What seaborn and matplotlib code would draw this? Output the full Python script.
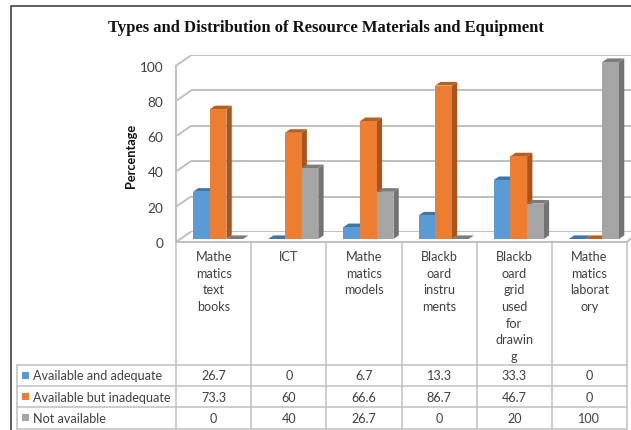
import pandas as pd
import numpy as np
import seaborn as sns
import matplotlib.pyplot as plt
from matplotlib.patches import Polygon, Rectangle

# values
categories = ['Mathe\nmatics\ntext\nbooks', 'ICT', 'Mathe\nmatics\nmodels', 'Blackb\noard\ninstru\nments',
              'Blackb\noard\ngrid\nused\nfor\ndrawin\ng', 'Mathe\nmatics\nlaborat\nory']
adequate = [26.7, 0, 6.7, 13.3, 33.3, 0]
inadequate = [73.3, 60, 66.6, 86.7, 46.7, 0]
not_available = [0, 40, 26.7, 0, 20, 100]
series_names = ['Available and adequate', 'Available but inadequate', 'Not available']
y_ticks = [0, 20, 40, 60, 80, 100]

colors = ['#5B9BD5', '#ED7D31', '#A5A5A5']
top_colors = ['#3F76A8', '#B85F20', '#7C7C7C']
side_colors = ['#41719C', '#A5561F', '#737373']
line_color = '#BFBFBF'

W, H = 631, 431
FONT = 'Lato'
TABLE_SIZE = 9.1


def axes_px(fig, left, right, top, bottom):
    # axes placed with pixel edges measured from the top left corner
    return fig.add_axes([left / W, 1 - bottom / H, (right - left) / W, (bottom - top) / H])


def main():
    sns.set_theme(style='white')
    plt.rcParams['font.family'] = [FONT, 'DejaVu Sans']

    df = pd.DataFrame({
        'category': np.tile(categories, 3),
        'series': np.repeat(series_names, len(categories)),
        'value': adequate + inadequate + not_available,
    })

    fig = plt.figure(figsize=(W / 100, H / 100), dpi=100, facecolor='white')

    # pixel canvas for the frame, table and titles
    canvas = fig.add_axes([0, 0, 1, 1])
    canvas.set_xlim(0, W)
    canvas.set_ylim(H, 0)
    canvas.axis('off')

    canvas.plot([10.5, 10.5, W], [H, 7, 7], color='#333333', lw=1.1)
    canvas.text(325.5, 28, 'Types and Distribution of Resource Materials and Equipment',
                family='Liberation Serif', fontweight='bold', fontsize=11.95, color='#111111',
                ha='center', va='center')
    canvas.text(130.5, 155.5, 'Percentage', fontweight='bold', fontsize=9.2, color='#111111',
                rotation=90, ha='center', va='center')

    # back wall with the gridlines
    back = axes_px(fig, 190.5, W, 55.7, 233)
    back.patch.set_alpha(0)
    back.set_ylim(0, 100)
    back.set_xticks([])
    back.set_yticks(y_ticks)
    back.tick_params(left=False, labelleft=False)
    back.grid(axis='y', color=line_color, lw=1.4)
    sns.despine(ax=back, left=True, bottom=True)

    # front edge, holds the y tick labels
    front = axes_px(fig, 176, 627, 66.7, 243)
    front.patch.set_alpha(0)
    front.set_ylim(0, 100)
    front.set_xticks([])
    front.set_yticks(y_ticks)
    front.tick_params(axis='y', length=0, pad=9, labelsize=9.8, labelcolor='#404040')
    sns.despine(ax=front, top=True, right=True)
    front.spines['left'].set(color=line_color, lw=1.4)
    front.spines['bottom'].set(color=line_color, lw=1.4)

    # side wall and floor edges joining front and back
    for v in y_ticks:
        y = 243 - v * 1.763
        canvas.plot([176, 190.5], [y, y - 10], color=line_color, lw=1.4)
    canvas.plot([627, W], [243, 239.5], color=line_color, lw=1.4)

    # bars
    ax = axes_px(fig, 176, 627, 63, 240)
    ax.patch.set_alpha(0)
    sns.barplot(data=df, x='category', y='value', hue='series', hue_order=series_names,
                palette=colors, saturation=1, width=0.667, gap=0, legend=False, ax=ax)
    ax.set_xlim(-0.5 - 4.5 / 75.2, 5.5 - 4.5 / 75.2)
    ax.set_ylim(0, 100)
    ax.set_xlabel('')
    ax.set_ylabel('')
    ax.set_xticks([])
    ax.set_yticks([])
    sns.despine(ax=ax, left=True, bottom=True)

    # depth faces built from the bars seaborn drew
    dx = 5.3 / 75.2
    dy = 3.6 / 1.77
    for i, container in enumerate(ax.containers):
        for bar in container:
            x0 = bar.get_x()
            x1 = x0 + bar.get_width()
            h = bar.get_height()
            bar.set_linewidth(0)
            bar.set_zorder(10 + i * 2)
            ax.add_patch(Polygon([(x1, 0), (x1 + dx, dy), (x1 + dx, h + dy), (x1, h)], closed=True,
                                 fc=side_colors[i], lw=0, zorder=9 + i * 2, clip_on=False))
            ax.add_patch(Polygon([(x0, h), (x0 + dx, h + dy), (x1 + dx, h + dy), (x1, h)], closed=True,
                                 fc=top_colors[i], lw=0, zorder=9 + i * 2, clip_on=False))

    # data table
    col_edges = np.linspace(176, 627, len(categories) + 1)
    row_edges = [365.7, 387, 408.3, 429.7]
    for x in col_edges:
        canvas.plot([x, x], [243, row_edges[-1]], color=line_color, lw=1.1)
    canvas.plot([17.3, 17.3], [row_edges[0], row_edges[-1]], color=line_color, lw=1.1)
    for y in row_edges:
        canvas.plot([17.3, 627], [y, y], color=line_color, lw=1.1)

    rows = [adequate, inadequate, not_available]
    for r, (name, values) in enumerate(zip(series_names, rows)):
        y = (row_edges[r] + row_edges[r + 1]) / 2
        canvas.add_patch(Rectangle((22, y - 3.5), 7, 7, fc=colors[r], lw=0))
        canvas.text(33, y, name, fontsize=TABLE_SIZE, color='#404040', ha='left', va='center')
        for c, v in enumerate(values):
            canvas.text((col_edges[c] + col_edges[c + 1]) / 2, y, f'{v:g}', fontsize=TABLE_SIZE,
                        color='#404040', ha='center', va='center')
    for c, label in enumerate(categories):
        for k, part in enumerate(label.split('\n')):
            canvas.text((col_edges[c] + col_edges[c + 1]) / 2, 257 + k * 16.7, part, fontsize=TABLE_SIZE,
                        color='#404040', ha='center', va='center')

    fig.savefig('out.png', dpi=100)
    plt.close(fig)


if __name__ == "__main__":
    main()
